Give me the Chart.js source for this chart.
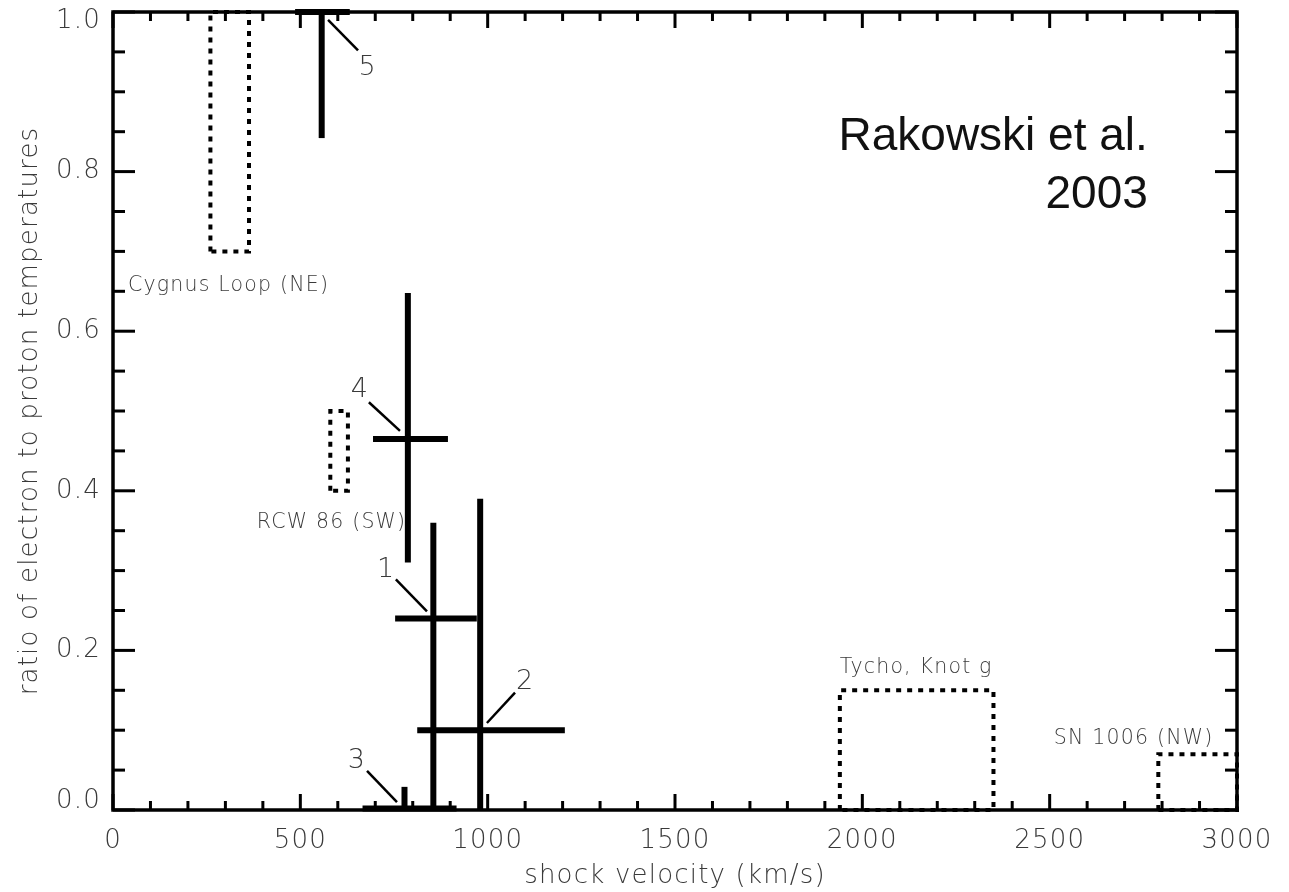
<!DOCTYPE html>
<html>
<head>
<meta charset="utf-8">
<script src="https://cdn.jsdelivr.net/npm/chart.js@4.4.1/dist/chart.umd.min.js"></script>
<style>
  html, body { margin: 0; padding: 0; background: #ffffff; }
  #wrap { width: 1289px; height: 892px; }
</style>
</head>
<body>
<div id="wrap"><canvas id="c" width="1289" height="892"></canvas></div>
<script>
// Shock measurements 1-5: velocity (km/s) and Te/Tp with their ranges
const shockIds      = ['1', '2', '3', '4', '5'];
const shockVelocity = [855, 980, 778, 787, 557];
const velocityLow   = [753, 812, 666, 694, 486];
const velocityHigh  = [971, 1206, 917, 894, 632];
const tempRatio     = [0.24, 0.10, 0.002, 0.465, 1.0];
const ratioLow      = [0.0, 0.0, 0.0, 0.31, 0.842];
const ratioHigh     = [0.36, 0.39, 0.029, 0.648, 1.0];

// Where each number sits, and the short leader line to its cross
const idLabelVel     = [729, 1100, 651, 659, 680];
const idLabelRatio   = [0.301, 0.160, 0.061, 0.526, 0.930];
const leaderStartVel = [755, 1073, 678, 683, 654];
const leaderStartRat = [0.289, 0.147, 0.049, 0.511, 0.952];
const leaderEndVel   = [838, 998, 758, 766, 574];
const leaderEndRat   = [0.249, 0.109, 0.010, 0.475, 0.990];

// Other remnants, shown as dotted ranges
const remnantNames    = ['Cygnus Loop (NE)', 'RCW 86 (SW)', 'Tycho, Knot g', 'SN 1006 (NW)'];
const remnantVelMin   = [260, 580, 1940, 2790];
const remnantVelMax   = [363, 627, 2350, 3000];
const remnantRatioMin = [0.70, 0.40, 0.00, 0.00];
const remnantRatioMax = [1.00, 0.50, 0.15, 0.07];
const remnantLabelVel   = [40, 384, 1940, 2511];
const remnantLabelRatio = [0.657, 0.360, 0.178, 0.089];

// Axis ticks
const xTicks = [0, 500, 1000, 1500, 2000, 2500, 3000];
const xTickLabels = ['0', '500', '1000', '1500', '2000', '2500', '3000'];
const yTicks = [0, 0.2, 0.4, 0.6, 0.8, 1.0];
const yTickLabels = ['0.0', '0.2', '0.4', '0.6', '0.8', '1.0'];

// Citation
const citationLines = ['Rakowski et al.', '2003'];
const citationVel = 2762;
const citationRatio = [0.827, 0.754];

const INK = '#000000';
const GREY = '#3a3a3a';
const THIN_FONT = "'DejaVu Sans', 'Liberation Sans', sans-serif";

const datasets = [];

// error crosses
shockIds.forEach((id, i) => {
  const common = { showLine: true, borderColor: INK, borderWidth: 6, pointRadius: 0,
                   borderCapStyle: 'butt', clip: false, fill: false };
  datasets.push(Object.assign({ label: 'shock ' + id + ' velocity range',
    data: [{ x: velocityLow[i], y: tempRatio[i] }, { x: velocityHigh[i], y: tempRatio[i] }] }, common));
  datasets.push(Object.assign({ label: 'shock ' + id + ' ratio range',
    data: [{ x: shockVelocity[i], y: ratioLow[i] }, { x: shockVelocity[i], y: ratioHigh[i] }] }, common));
  datasets.push({ label: 'shock ' + id + ' leader', showLine: true, borderColor: INK, borderWidth: 2.5,
    pointRadius: 0, clip: false,
    data: [{ x: leaderStartVel[i], y: leaderStartRat[i] }, { x: leaderEndVel[i], y: leaderEndRat[i] }] });
});

// dotted remnant ranges
remnantNames.forEach((name, i) => {
  const x0 = remnantVelMin[i], x1 = remnantVelMax[i];
  const y0 = remnantRatioMin[i], y1 = remnantRatioMax[i];
  datasets.push({ label: name, showLine: true, borderColor: INK, borderWidth: 4,
    borderDash: [5, 6], pointRadius: 0, clip: false, borderCapStyle: 'butt',
    data: [{ x: x0, y: y0 }, { x: x0, y: y1 }, { x: x1, y: y1 }, { x: x1, y: y0 }, { x: x0, y: y0 }] });
});

// inward ticks on all four sides plus the plot frame
const frameTicks = {
  id: 'frameTicks',
  afterDatasetsDraw(chart) {
    const { ctx, chartArea: a, scales: { x, y } } = chart;
    ctx.save();
    ctx.strokeStyle = INK;
    ctx.lineCap = 'butt';
    ctx.lineWidth = 3;
    const seg = (x1, y1, x2, y2) => { ctx.beginPath(); ctx.moveTo(x1, y1); ctx.lineTo(x2, y2); ctx.stroke(); };
    for (let v = 0; v <= 3000; v += 100) {
      const px = x.getPixelForValue(v);
      const len = v % 500 === 0 ? 16 : 9;
      seg(px, a.bottom, px, a.bottom - len);
      seg(px, a.top, px, a.top + len);
    }
    for (let k = 0; k <= 20; k++) {
      const py = y.getPixelForValue(k * 0.05);
      const len = k % 4 === 0 ? 22 : 12;
      seg(a.left, py, a.left + len, py);
      seg(a.right, py, a.right - len, py);
    }
    ctx.lineWidth = 3.5;
    ctx.strokeRect(a.left, a.top, a.right - a.left, a.bottom - a.top);
    ctx.restore();
  }
};

// remnant names, shock numbers and the citation
const annotations = {
  id: 'annotations',
  afterDraw(chart) {
    const { ctx, scales: { x, y } } = chart;
    ctx.save();
    ctx.fillStyle = GREY;
    ctx.letterSpacing = '1.2px';
    ctx.textBaseline = 'middle';
    ctx.textAlign = 'left';
    ctx.font = '200 20.5px ' + THIN_FONT;
    remnantNames.forEach((name, i) => {
      ctx.fillText(name, x.getPixelForValue(remnantLabelVel[i]), y.getPixelForValue(remnantLabelRatio[i]));
    });
    ctx.textAlign = 'center';
    ctx.font = '200 27px ' + THIN_FONT;
    shockIds.forEach((id, i) => {
      ctx.fillText(id, x.getPixelForValue(idLabelVel[i]), y.getPixelForValue(idLabelRatio[i]));
    });
    ctx.letterSpacing = '0px';
    ctx.fillStyle = '#111111';
    ctx.font = "46px 'Liberation Sans', Arial, sans-serif";
    ctx.textAlign = 'right';
    ctx.textBaseline = 'alphabetic';
    citationLines.forEach((line, i) => {
      ctx.fillText(line, x.getPixelForValue(citationVel), y.getPixelForValue(citationRatio[i]));
    });
    ctx.restore();
  }
};

// the thin grey lettering is a little spaced out
const spacing = {
  id: 'spacing',
  beforeDraw(chart) { chart.ctx.letterSpacing = '1.2px'; }
};

const tickFont = { family: THIN_FONT, size: 26, weight: 200, lineHeight: 0.7 };
const titleFont = { family: THIN_FONT, size: 26, weight: 200, lineHeight: 1.2 };

// end labels on the ratio axis sit inside the frame: an empty line nudges them inward
function ratioTickLabel(v) {
  const idx = yTicks.findIndex(t => Math.abs(t - v) < 1e-9);
  const text = yTickLabels[idx];
  if (idx === yTicks.length - 1) return ['', text];
  if (idx === 0) return [text, ''];
  return text;
}

new Chart(document.getElementById('c'), {
  type: 'scatter',
  data: { datasets },
  options: {
    responsive: false,
    animation: false,
    events: [],
    layout: { padding: { top: 12, right: 52, left: 0, bottom: 0 } },
    plugins: { legend: { display: false }, tooltip: { enabled: false }, title: { display: false } },
    scales: {
      x: {
        type: 'linear', min: 0, max: 3000,
        grid: { display: false, drawTicks: false },
        border: { display: false },
        afterBuildTicks(scale) { scale.ticks = xTicks.map(v => ({ value: v })); },
        afterFit(scale) { scale.height = 82; scale.paddingLeft = 0; scale.paddingRight = 0; },
        ticks: {
          autoSkip: false, maxRotation: 0, padding: 22, color: GREY, font: tickFont,
          callback: (v) => xTickLabels[xTicks.indexOf(v)]
        },
        title: { display: true, text: 'shock velocity (km/s)', color: GREY, font: titleFont,
                 padding: { top: 0, bottom: 0 } }
      },
      y: {
        type: 'linear', min: 0, max: 1.0,
        grid: { display: false, drawTicks: false },
        border: { display: false },
        afterBuildTicks(scale) { scale.ticks = yTicks.map(v => ({ value: v })); },
        afterFit(scale) { scale.width = 113; scale.paddingTop = 0; scale.paddingBottom = 0; },
        ticks: {
          autoSkip: false, padding: 12, color: GREY, font: tickFont,
          callback: ratioTickLabel
        },
        title: { display: true, text: 'ratio of electron to proton temperatures', color: GREY,
                 font: titleFont, padding: { top: 15, bottom: 0 } }
      }
    }
  },
  plugins: [spacing, frameTicks, annotations]
});
</script>
</body>
</html>
